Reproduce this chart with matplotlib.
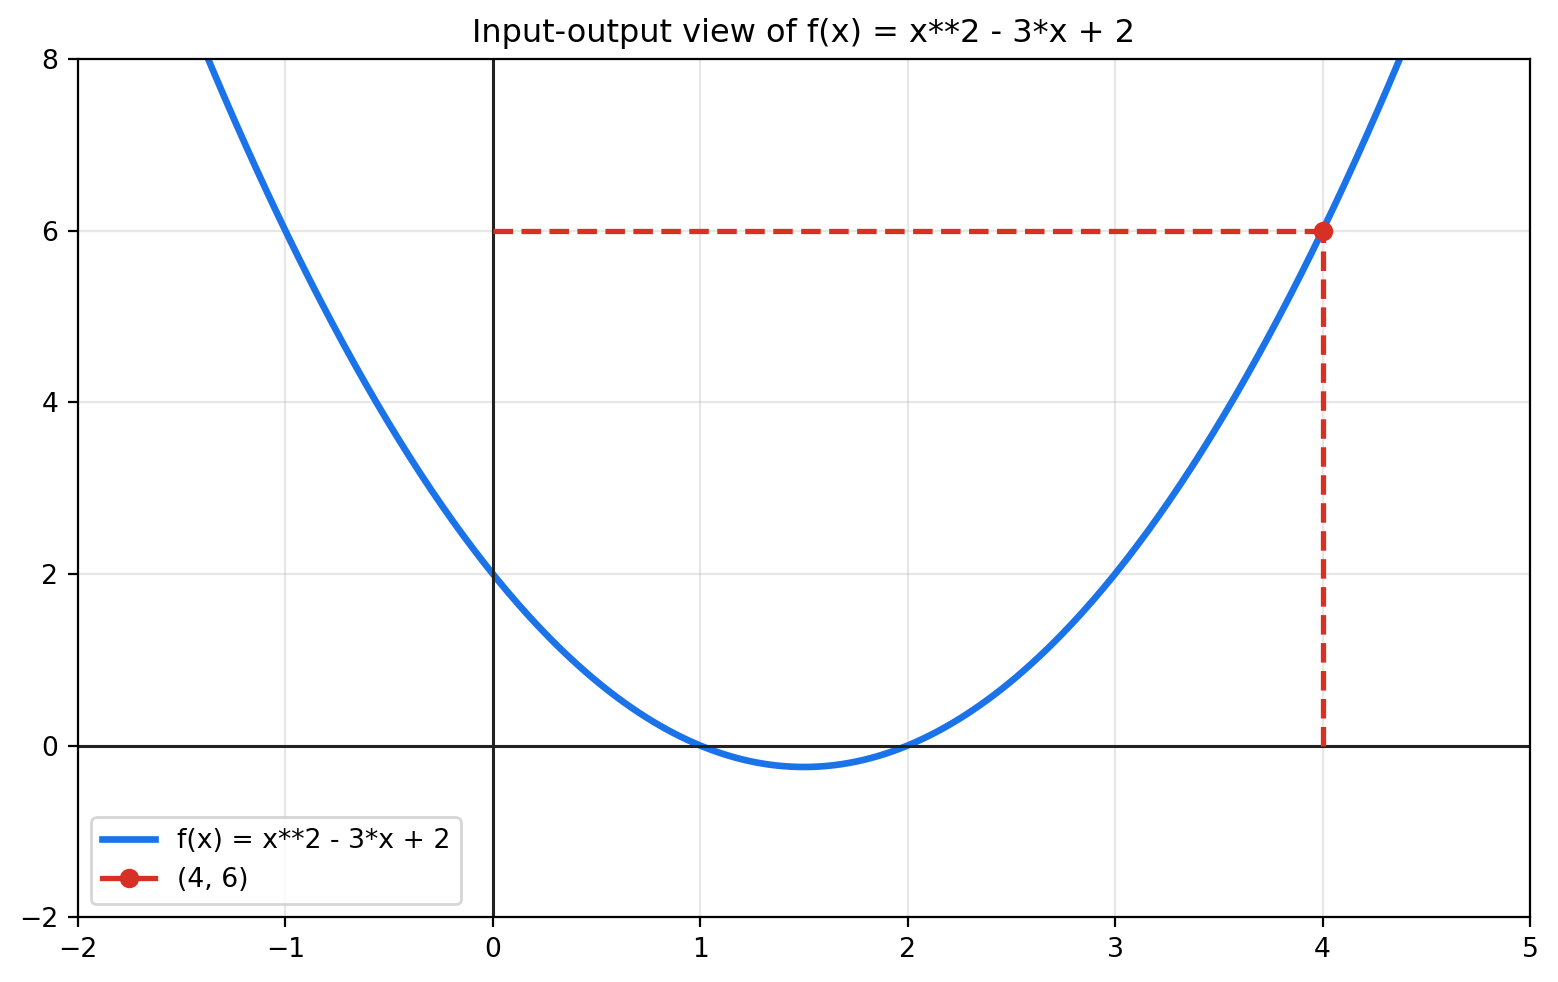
import numpy as np
import matplotlib.pyplot as plt

# f(x) = a*x**2 + b*x + c
a, b, c = 1, -3, 2
x_in = 4
y_out = 6
x_min, x_max = -2, 5
y_min, y_max = -2, 8

blue = "#1a73e8"
red = "#d93025"

plt.rcParams["font.size"] = 9.6

x = np.linspace(x_min, x_max, 400)
y = a * x**2 + b * x + c

fig, ax = plt.subplots(figsize=(7.79, 4.91), dpi=200)

ax.plot(x, y, color=blue, linewidth=2.4, label="f(x) = x**2 - 3*x + 2")
ax.axhline(0, color="#222222", linewidth=1.1)
ax.axvline(0, color="#222222", linewidth=1.1)

# dashed guides from axes to the point
ax.plot([0, x_in], [y_out, y_out], color=red, linestyle="--", linewidth=1.9)
ax.plot([x_in, x_in], [0, y_out], color=red, linestyle="--", linewidth=1.9)
ax.plot([x_in], [y_out], marker="o", color=red, markersize=6, linestyle="-",
        linewidth=1.9, label="(4, 6)")

ax.set_xlim(x_min, x_max)
ax.set_ylim(y_min, y_max)
ax.grid(True, alpha=0.3)
ax.set_title("Input-output view of f(x) = x**2 - 3*x + 2")
ax.legend(loc="lower left")

fig.subplots_adjust(left=0.05, right=0.982, top=0.94, bottom=0.066)
fig.savefig("out.png", dpi=200)
